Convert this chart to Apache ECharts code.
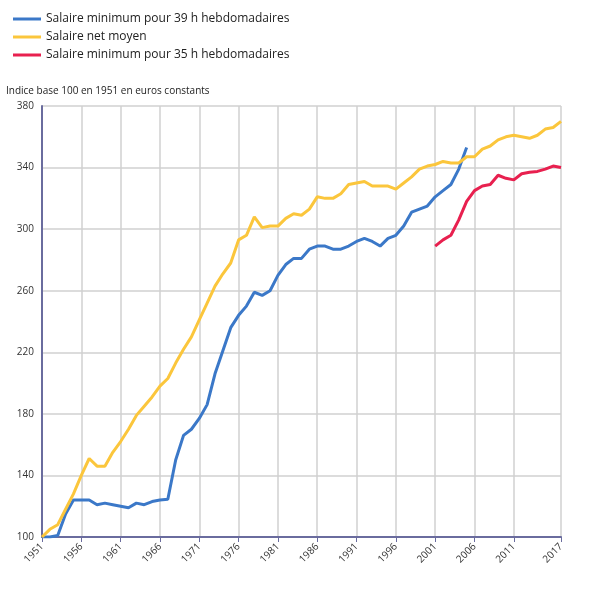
<!DOCTYPE html><html><head><meta charset="utf-8"><script src="https://cdn.jsdelivr.net/npm/echarts@6/dist/echarts.min.js"></script></head><body style="margin:0"><div id="c" style="width:590px;height:592px"></div><script>
const years=[];for(let y=1951;y<=2017;y++)years.push(String(y));
const netMoyen=[100,105,108,118,128,140,151,146,146,155,162,170,179,185,191,198,203,213,222,230,241,252,263,271,278,293,296,308,301,302,302,307,310,309,313,321,320,320,323,329,330,331,328,328,328,326,330,334,339,341,342,344,343,343,347,347,352,354,358,360,361,360,359,361,365,366,370];
const smic39=[100,100,101,115,124,124,124,121,122,121,120,119,122,121,123,124,124.5,150,166,170,177,186,206,221,236,244,250,259,257,260,270,277,281,281,287,289,289,287,287,289,292,294,292,289,294,296,302,311,313,315,321,325,329,339,353];
const smic35=new Array(50).fill(null).concat([289,293,296,306,318,325,328,329,335,333,332,336,337,337.5,339,341,340]);
const show=(i)=>(i%5===0&&i<65)||i===66;
const ch=echarts.init(document.getElementById('c'));
const ff='"Open Sans", sans-serif';
ch.setOption({
 textStyle:{fontFamily:ff},
 legend:{orient:'vertical',left:8,top:8,itemGap:6,itemWidth:28,itemHeight:3,icon:'rect',textStyle:{fontSize:12,color:'#222',fontFamily:ff},data:['Salaire minimum pour 39 h hebdomadaires','Salaire net moyen','Salaire minimum pour 35 h hebdomadaires']},
 grid:{left:42,right:29,top:106,bottom:55},
 xAxis:{type:'category',data:years,boundaryGap:false,
  axisLine:{lineStyle:{color:'#6a6c9e',width:2}},axisTick:{show:true,interval:(i)=>show(i),lineStyle:{color:'#6a6c9e'}},
  axisLabel:{interval:(i)=>show(i),rotate:45,fontSize:10,color:'#333',fontFamily:ff},
  splitLine:{show:true,interval:(i)=>show(i),lineStyle:{color:'#d0d0d0',width:1.5}}},
 yAxis:{type:'value',min:100,max:380,interval:40,name:'Indice base 100 en 1951 en euros constants',nameLocation:'end',nameGap:10,
  nameTextStyle:{align:'left',padding:[0,0,0,-36],fontSize:10,color:'#222',fontFamily:ff},
  axisLine:{show:true,lineStyle:{color:'#6a6c9e',width:2}},axisLabel:{fontSize:10,color:'#333',fontFamily:ff},
  splitLine:{lineStyle:{color:'#d0d0d0',width:1.5}}},
 series:[
  {name:'Salaire minimum pour 39 h hebdomadaires',type:'line',data:smic39,symbol:'none',lineStyle:{width:3,color:'#3b78c8'},itemStyle:{color:'#3b78c8'}},
  {name:'Salaire net moyen',type:'line',data:netMoyen,symbol:'none',lineStyle:{width:3,color:'#fbc63c'},itemStyle:{color:'#fbc63c'}},
  {name:'Salaire minimum pour 35 h hebdomadaires',type:'line',data:smic35,symbol:'none',lineStyle:{width:3,color:'#e8204f'},itemStyle:{color:'#e8204f'}}
 ]});
</script></body></html>
